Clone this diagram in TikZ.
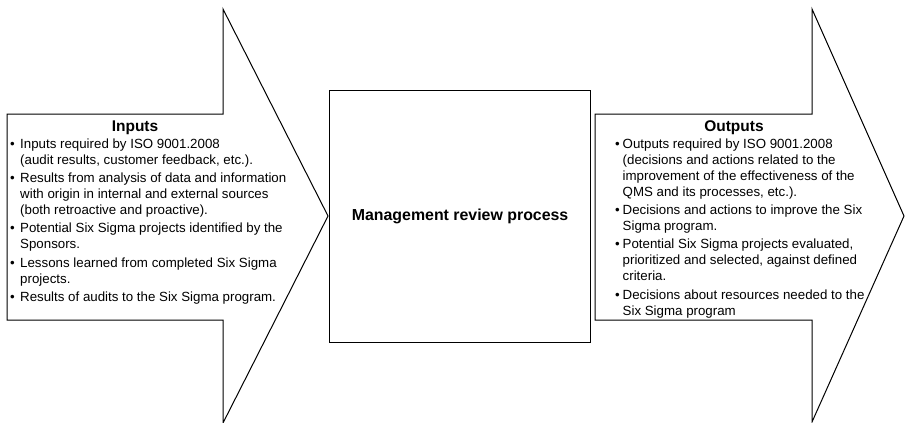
\documentclass[tikz,border=0pt]{standalone}
\usepackage{fontspec}
\setmainfont{Liberation Sans}

% bullet paragraph with hanging indent; lines are broken with \newline
\newlength\bulind
\newcommand\bitem[1]{\par\hangindent=\bulind\hangafter=1\noindent\makebox[\bulind][l]{•}#1}

\tikzset{
  flowarrow/.style={draw=black, line width=1pt, line join=miter, fill=white},
  procbox/.style={draw=black, line width=1.2pt},
  heading/.style={font=\fontsize{15.5}{18}\selectfont\bfseries, inner sep=0pt, anchor=base},
  bodytext/.style={font=\fontsize{13.3}{16}\selectfont, inner sep=0pt, anchor=base west},
  proctext/.style={font=\fontsize{15.9}{18}\selectfont\bfseries, inner sep=0pt}
}

\begin{document}
\begin{tikzpicture}[x=1pt, y=-1pt]
\useasboundingbox (0,0) rectangle (905,423);

% input arrow
\draw[flowarrow] (7,114) -- (223,114) -- (223,9) -- (328,216) -- (223,423)
  -- (223,320) -- (7,320) -- cycle;

% output arrow
\draw[flowarrow] (595,114) -- (812,114) -- (812,9) -- (904,216) -- (812,422)
  -- (812,320) -- (595,320) -- cycle;

% central process box
\node[procbox, minimum width=261pt, minimum height=252pt, anchor=north west] (proc) at (329,90) {};
\node[proctext] (proclabel) at (proc.center) {Management review process};

% inputs
\node[heading] (inhead) at (135,131) {Inputs};
\node[bodytext] (inbody) at (10,148.5) {\parbox[t]{300pt}{\setlength\bulind{10pt}\setlength\parskip{2.2pt}%
  \bitem{Inputs required by ISO 9001.2008\newline(audit results, customer feedback, etc.).}
  \bitem{Results from analysis of data and information\newline with origin in internal and external sources\newline(both retroactive and proactive).}
  \bitem{Potential Six Sigma projects identified by the\newline Sponsors.}
  \bitem{Lessons learned from completed Six Sigma\newline projects.}
  \bitem{Results of audits to the Six Sigma program.}}};

% outputs
\node[heading] (outhead) at (734,131) {Outputs};
\node[bodytext] (outbody) at (615,148.5) {\parbox[t]{300pt}{\setlength\bulind{7.5pt}\setlength\parskip{2.2pt}%
  \bitem{Outputs required by ISO 9001.2008\newline(decisions and actions related to the\newline improvement of the effectiveness of the\newline QMS and its processes, etc.).}
  \bitem{Decisions and actions to improve the Six\newline Sigma program.}
  \bitem{Potential Six Sigma projects evaluated,\newline prioritized and selected, against defined\newline criteria.}
  \bitem{Decisions about resources needed to the\newline Six Sigma program}}};
\end{tikzpicture}
\end{document}
